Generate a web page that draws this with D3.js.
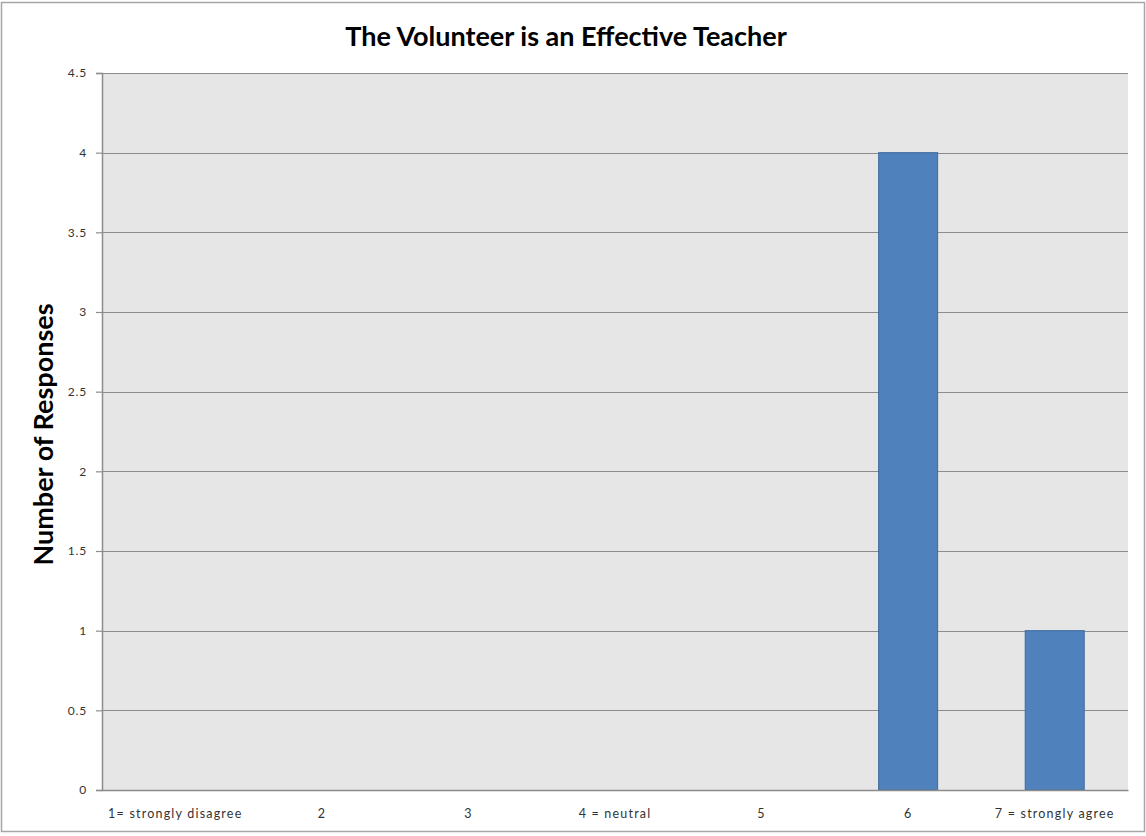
<!DOCTYPE html>
<html>
<head>
<meta charset="utf-8">
<script src="https://cdn.jsdelivr.net/npm/d3@7"></script>
<style>
  html, body { margin: 0; padding: 0; background: #fff; }
  svg { display: block; }
  text { font-family: Lato, "Open Sans", sans-serif; }
</style>
</head>
<body>
<svg id="chart" width="1146" height="836"></svg>
<script>
// Survey responses per rating
const categories = ["1= strongly disagree", "2", "3", "4 = neutral", "5", "6", "7 = strongly agree"];
const responses = [0, 0, 0, 0, 0, 4, 1];
const yTicks = [0, 0.5, 1, 1.5, 2, 2.5, 3, 3.5, 4, 4.5];

const svg = d3.select("#chart");
const plot = { left: 102, right: 1128, top: 73, bottom: 790 };

// Outer chart border
svg.append("rect")
  .attr("x", 1.5).attr("y", 2.5)
  .attr("width", 1143).attr("height", 829)
  .attr("fill", "#fff").attr("stroke", "#a6a6a6").attr("stroke-width", 1.5);

const band = d3.scaleBand().domain(categories).range([plot.left, plot.right]);
const y = d3.scaleLinear().domain([0, 4.5]).range([plot.bottom, plot.top]);

// Plot background
svg.append("rect")
  .attr("x", plot.left).attr("y", plot.top)
  .attr("width", plot.right - plot.left).attr("height", plot.bottom - plot.top)
  .attr("fill", "#e6e6e6");

// Horizontal gridlines
svg.append("g").selectAll("line").data(yTicks).join("line")
  .attr("x1", plot.left).attr("x2", plot.right)
  .attr("y1", d => Math.round(y(d)) + 0.5).attr("y2", d => Math.round(y(d)) + 0.5)
  .attr("stroke", "#8c8c8c").attr("stroke-width", 1.2);

// Bars
const barW = 59;
svg.append("g").selectAll("rect").data(categories).join("rect")
  .attr("x", d => band(d) + band.bandwidth() / 2 - barW / 2)
  .attr("width", barW)
  .attr("y", (d, i) => y(responses[i]))
  .attr("height", (d, i) => y(0) - y(responses[i]))
  .attr("fill", "#4f81bd")
  .attr("stroke", "#3f6a9c").attr("stroke-width", 1)
  .attr("display", (d, i) => responses[i] > 0 ? null : "none");

// Y axis
const yAxis = d3.axisLeft(y).tickValues(yTicks).tickSize(6).tickPadding(9)
  .tickFormat(d => String(d));
const gy = svg.append("g").attr("transform", `translate(${plot.left},0)`).call(yAxis);
gy.select(".domain").attr("stroke", "#8c8c8c").attr("stroke-width", 1.5);
gy.selectAll(".tick line").attr("stroke", "#8c8c8c").attr("stroke-width", 1.2);
gy.selectAll(".tick text").attr("fill", "#333").style("font-size", "12px")
  .style("letter-spacing", "0.8px")
  .style("font-family", "Lato, sans-serif");

// X axis baseline and labels
const xAxis = d3.axisBottom(band).tickSize(0).tickPadding(19);
const gx = svg.append("g").attr("transform", `translate(0,${plot.bottom})`).call(xAxis);
gx.select(".domain").attr("stroke", "#8c8c8c").attr("stroke-width", 1.5);
gx.selectAll(".tick text").attr("fill", "#333").style("font-size", "12.5px")
  .style("letter-spacing", "1.2px")
  .style("font-family", "Lato, sans-serif");

// Title
svg.append("text")
  .attr("x", 566).attr("y", 46)
  .attr("text-anchor", "middle")
  .style("font-size", "27px").style("font-weight", "bold").attr("fill", "#000")
  .text("The Volunteer is an Effective Teacher");

// Y axis title
svg.append("text")
  .attr("transform", `translate(53,${(plot.top + plot.bottom) / 2 + 3}) rotate(-90)`)
  .attr("text-anchor", "middle")
  .style("font-size", "27px").style("font-weight", "bold").attr("fill", "#000")
  .text("Number of Responses");
</script>
</body>
</html>
